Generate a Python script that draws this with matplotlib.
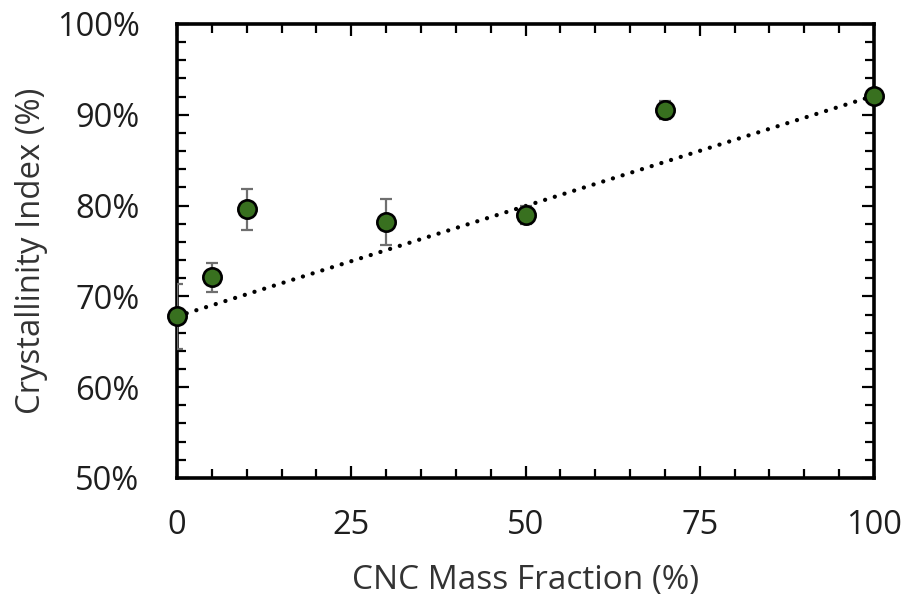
import matplotlib
matplotlib.use("Agg")
import matplotlib.pyplot as plt
from matplotlib.ticker import MultipleLocator, FuncFormatter

# CNC mass fraction (%) and measured crystallinity index (%)
cnc_fraction = [0, 5, 10, 30, 50, 70, 100]
crystallinity = [67.8, 72.1, 79.6, 78.2, 79.0, 90.5, 92.1]
crystallinity_err = [3.6, 1.6, 2.25, 2.5, 1.0, 1.0, 0.0]

x_ticks = [0, 25, 50, 75, 100]
y_ticks = [50, 60, 70, 80, 90, 100]

plt.rcParams['font.family'] = ['Open Sans', 'DejaVu Sans']

fig = plt.figure(figsize=(9.08, 6.01), dpi=100)
ax = fig.add_axes([0.1949, 0.2047, 0.7677, 0.7554])

# rule-of-mixtures line between the pure components
x0, x1 = cnc_fraction[0], cnc_fraction[-1]
y0, y1 = crystallinity[0], crystallinity[-1]
ax.plot([x0, x1], [y0, y1], color='black', lw=3.1,
        linestyle=(0, (0.01, 2.35)), dash_capstyle='round', zorder=2)

ax.errorbar(cnc_fraction, crystallinity, yerr=crystallinity_err, fmt='none',
            ecolor='#6f6f6f', elinewidth=1.6, capsize=4.6, capthick=1.6, zorder=3)
ax.plot(cnc_fraction, crystallinity, 'o', ms=13.2, mfc='#38701f', mec='black',
        mew=1.9, clip_on=False, zorder=4)

ax.set_xlim(0, 100)
ax.set_ylim(50, 100)
ax.xaxis.set_major_locator(MultipleLocator(25))
ax.xaxis.set_minor_locator(MultipleLocator(5))
ax.yaxis.set_major_locator(MultipleLocator(10))
ax.yaxis.set_minor_locator(MultipleLocator(2))
ax.set_xticks(x_ticks)
ax.set_yticks(y_ticks)
ax.yaxis.set_major_formatter(FuncFormatter(lambda v, p: f"{v:.0f}%"))

for s in ax.spines.values():
    s.set_linewidth(2.6)
    s.set_color('black')

ax.tick_params(which='both', direction='in', top=True, right=True,
               width=1.6, colors='black', labelsize=23.5, labelcolor='#1e1e1e')
ax.tick_params(which='major', length=8.5)
ax.tick_params(which='minor', length=6.2)
ax.tick_params(axis='y', which='major', pad=27)
ax.tick_params(axis='x', which='major', pad=22)

ax.set_xlabel('CNC Mass Fraction (%)', fontsize=24, color='#333333', labelpad=16)
ax.set_ylabel('Crystallinity Index (%)', fontsize=23.7, color='#333333', labelpad=6)

fig.savefig('out.png', dpi=100)
